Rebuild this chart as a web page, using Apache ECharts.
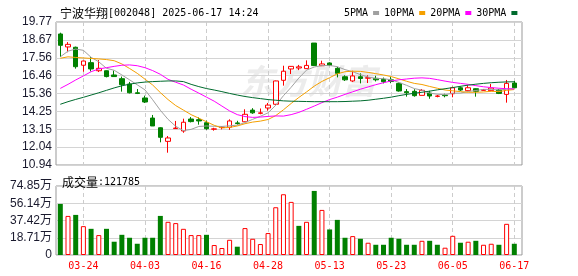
<!DOCTYPE html>
<html><head><meta charset="utf-8">
<script src="https://cdn.jsdelivr.net/npm/echarts@6/dist/echarts.min.js"></script>
<style>html,body{margin:0;padding:0;background:#fff}#c{width:578px;height:276px}</style>
</head><body><div id="c"></div>
<script>
const dates = ['03-19','03-20','03-21','03-24','03-25','03-26','03-27','03-28','03-31','04-01','04-02','04-03','04-07','04-08','04-09','04-10','04-11','04-14','04-15','04-16','04-17','04-18','04-21','04-22','04-23','04-24','04-25','04-28','04-29','04-30','05-06','05-07','05-08','05-09','05-12','05-13','05-14','05-15','05-16','05-19','05-20','05-21','05-22','05-23','05-26','05-27','05-28','05-29','05-30','06-03','06-04','06-05','06-06','06-09','06-10','06-11','06-12','06-13','06-16','06-17'];
const labelDates = ['03-24','04-03','04-16','04-28','05-13','05-23','06-05','06-17'];
// [open, close, low, high]
const candles = [
[19.03,18.33,17.61,19.11],[18.23,18.39,17.90,18.53],[18.21,17.01,16.89,18.25],[17.10,17.36,16.70,17.38],
[17.26,16.87,16.72,17.60],[16.76,16.91,16.68,17.42],[16.76,16.40,16.35,16.78],[16.50,16.40,16.39,16.77],
[16.27,15.90,15.47,16.40],[15.94,15.40,15.36,16.07],[15.40,15.36,15.32,15.63],[15.08,14.83,14.77,15.22],
[13.84,13.35,13.35,14.03],[13.24,12.65,12.34,13.27],[12.40,12.61,11.70,12.73],[13.19,13.22,13.17,13.66],
[13.04,13.58,12.93,13.80],[13.78,13.62,13.57,13.90],[13.74,13.66,13.43,13.88],[13.55,13.18,13.11,13.68],
[13.15,13.17,13.06,13.24],[13.25,13.27,13.14,13.33],[13.27,13.66,13.11,13.76],[13.54,13.50,13.43,13.67],
[13.61,14.07,13.60,14.38],[14.33,14.16,14.10,14.45],[14.13,14.16,14.07,14.43],[14.46,14.64,14.29,14.77],
[14.69,16.13,14.63,16.15],[16.17,16.73,15.84,17.07],[16.87,17.03,16.56,17.05],[16.93,17.00,16.80,17.12],
[16.89,17.09,16.88,17.40],[18.47,17.08,17.05,18.47],[17.07,17.18,17.05,17.38],[17.24,17.08,17.06,17.28],
[16.91,16.60,16.35,17.00],[16.39,16.20,16.13,16.48],[16.13,16.44,16.07,16.76],[16.39,16.28,15.98,16.60],
[16.30,16.33,16.00,16.48],[16.29,16.20,16.10,16.45],[16.23,16.08,15.98,16.34],[16.20,16.10,15.99,16.37],
[15.98,15.51,15.47,16.04],[15.47,15.40,15.16,15.63],[15.49,15.22,15.16,15.62],[15.24,15.55,15.24,15.63],
[15.38,15.20,15.03,15.52],[15.18,15.20,15.12,15.27],[15.25,15.22,15.12,15.34],[15.34,15.71,15.12,15.78],
[15.71,15.57,15.51,15.80],[15.53,15.71,15.52,15.86],[15.65,15.49,15.16,15.67],[15.55,15.58,15.53,15.63],
[15.53,15.69,15.52,15.94],[15.57,15.36,15.32,15.63],[15.30,15.98,14.79,16.19],[16.00,15.71,15.69,16.13]
];
const ma5 = [17.62,17.97,18.10,18.02,17.59,17.31,16.91,16.79,16.50,16.20,15.89,15.58,14.97,14.32,13.76,13.33,13.06,13.14,13.32,13.35,13.33,13.32,13.36,13.40,13.56,13.76,13.95,14.16,14.63,15.22,15.74,16.31,16.80,16.99,17.08,17.09,17.01,16.83,16.70,16.52,16.37,16.29,16.27,16.20,16.04,15.86,15.66,15.56,15.38,15.31,15.28,15.38,15.38,15.48,15.54,15.61,15.61,15.57,15.62,15.66];
const ma10 = [17.53,17.62,17.58,17.55,17.52,17.49,17.45,17.38,17.18,16.90,16.60,16.24,15.88,15.41,14.98,14.61,14.33,14.05,13.83,13.61,13.39,13.23,13.26,13.35,13.49,13.59,13.65,13.75,13.99,14.35,14.74,15.11,15.45,15.81,16.10,16.33,16.57,16.70,16.73,16.72,16.66,16.58,16.50,16.40,16.26,16.11,15.98,15.91,15.79,15.68,15.57,15.52,15.47,15.43,15.43,15.45,15.49,15.47,15.55,15.60];
const ma20 = [15.67,15.92,16.19,16.44,16.70,16.87,16.95,17.03,17.10,17.12,17.07,16.95,16.77,16.54,16.23,16.05,15.88,15.62,15.38,15.13,14.88,14.58,14.28,14.05,13.93,13.88,13.90,13.94,13.97,13.96,14.05,14.19,14.38,14.58,14.79,14.98,15.13,15.30,15.46,15.62,15.76,15.90,16.02,16.13,16.20,16.25,16.30,16.32,16.29,16.21,16.12,16.04,15.98,15.92,15.84,15.77,15.72,15.68,15.65,15.63];
const ma30 = [14.69,14.85,14.99,15.12,15.26,15.40,15.55,15.70,15.83,15.93,16.01,16.06,16.09,16.11,16.13,16.13,16.09,15.92,15.78,15.66,15.57,15.47,15.36,15.26,15.17,15.10,15.04,14.98,14.94,14.90,14.88,14.87,14.86,14.85,14.85,14.85,14.85,14.86,14.88,14.90,14.94,15.00,15.06,15.13,15.22,15.30,15.37,15.43,15.50,15.58,15.65,15.72,15.80,15.87,15.93,15.98,16.02,16.05,16.07,16.08];
const volumes = [554000,424000,435000,313000,284000,216000,284000,144000,219000,187000,122000,187000,187000,424000,360000,346000,284000,216000,216000,219000,108000,76000,165000,90000,292000,176000,119000,238000,518000,659000,576000,316000,360000,695000,489000,277000,381000,187000,205000,176000,133000,111000,111000,187000,176000,111000,111000,154000,154000,111000,79000,208000,133000,144000,154000,111000,122000,111000,338000,121785];
const volUp = [0,1,0,1,0,1,0,0,0,0,0,0,0,0,1,1,1,1,1,0,1,1,1,0,1,1,1,1,1,1,1,0,1,0,1,0,0,0,1,0,1,0,0,0,0,0,0,1,0,0,1,1,0,1,0,1,1,0,1,0];
const priceTicks = [10.94,12.04,13.15,14.25,15.36,16.46,17.56,18.67,19.77];
const volTicks = [0,187100,374200,561400,748500];
const lastVolume = '121785';
const title = ['宁波华翔','[002048] 2025-06-17 14:24'];
const seriesNames = ['5PMA','10PMA','20PMA','30PMA'];

const RED = '#ff0000', GREEN = '#008000';
const labelIdx = labelDates.map(d => dates.indexOf(d));
const mono = '"DejaVu Sans Mono", monospace';
const sans = '"Liberation Sans", "Noto Sans CJK SC", sans-serif';

function xAxis(grid, showLabel) {
  return {
    type: 'value', gridIndex: grid, min: -0.56, max: 60.0,
    axisLine: {show: false},
    axisTick: {show: false, customValues: labelIdx},
    axisLabel: {show: showLabel, customValues: labelIdx, formatter: v => dates[v],
      color: RED, fontSize: 10, fontFamily: mono, margin: 6},
    splitLine: {show: true, lineStyle: {color: '#cccccc', type: [4, 3], width: 1}}
  };
}
const richStyle = {
  a: {fontSize: 12, fontFamily: '"Noto Sans CJK SC"', fontWeight: 'normal', color: '#000'},
  b: {fontSize: 10, fontFamily: mono, fontWeight: 'normal', color: '#000'}
};

const chart = echarts.init(document.getElementById('c'), null, {renderer: 'canvas'});
chart.setOption({
  animation: false,
  backgroundColor: '#fff',
  title: [
    {left: 55, top: 2, text: '{a|' + title[0] + '}{b|' + title[1] + '}',
     textStyle: {fontWeight: 'normal', rich: richStyle}},
    {left: 57, top: 171, text: '{a|成交量}{b|:' + lastVolume + '}',
     textStyle: {fontWeight: 'normal', rich: richStyle}}
  ],
  legend: {
    data: seriesNames, left: 339, top: 3, align: 'right', icon: 'rect',
    itemWidth: 6, itemHeight: 4, itemGap: 5,
    textStyle: {fontSize: 10, fontFamily: mono, color: '#000'}
  },
  graphic: [{
    type: 'text', left: 240, top: 64, z: -10, silent: true,
    style: {text: '东方财富', font: 'italic bold 34px "Noto Sans CJK SC"', fill: '#ececec'}
  }],
  grid: [
    {left: 56, top: 22, width: 466, height: 143, show: true, borderColor: '#999', borderWidth: 1},
    {left: 56, top: 186, width: 466, height: 69, show: true, borderColor: '#999', borderWidth: 1}
  ],
  xAxis: [xAxis(0, false), xAxis(1, true)],
  yAxis: [
    {type: 'value', gridIndex: 0, min: 10.94, max: 19.77,
     axisLine: {show: false}, axisTick: {show: false, customValues: priceTicks},
     axisLabel: {customValues: priceTicks, formatter: v => v.toFixed(2), color: '#1a1a2e', fontSize: 12, fontFamily: sans, margin: 4},
     splitLine: {show: true, lineStyle: {color: '#d4d4d4', width: 1}}},
    {type: 'value', gridIndex: 1, min: 0, max: 748500,
     axisLine: {show: false}, axisTick: {show: false, customValues: volTicks},
     axisLabel: {customValues: volTicks, formatter: v => v === 0 ? '0' : (v / 10000).toFixed(2) + '万', color: '#1a1a2e', fontSize: 12, fontFamily: sans, margin: 4},
     splitLine: {show: true, lineStyle: {color: '#d4d4d4', width: 1}}}
  ],
  series: [
    {type: 'candlestick', xAxisIndex: 0, yAxisIndex: 0, barWidth: 5,
     data: candles.map((d, i) => [i, d[0], d[1], d[2], d[3]]),
     itemStyle: {color: '#ffffff', color0: GREEN, borderColor: RED, borderColor0: GREEN, borderWidth: 1}},
    {name: '5PMA', type: 'line', xAxisIndex: 0, yAxisIndex: 0, showSymbol: false, color: '#a0a0a0',
     lineStyle: {width: 1, color: '#a0a0a0'}, data: ma5.map((v, i) => [i, v])},
    {name: '10PMA', type: 'line', xAxisIndex: 0, yAxisIndex: 0, showSymbol: false, color: '#f5a000',
     lineStyle: {width: 1, color: '#f5a000'}, data: ma10.map((v, i) => [i, v])},
    {name: '20PMA', type: 'line', xAxisIndex: 0, yAxisIndex: 0, showSymbol: false, color: '#ff00ff',
     lineStyle: {width: 1, color: '#ff00ff'}, data: ma20.map((v, i) => [i, v])},
    {name: '30PMA', type: 'line', xAxisIndex: 0, yAxisIndex: 0, showSymbol: false, color: '#006b2e',
     lineStyle: {width: 1, color: '#006b2e'}, data: ma30.map((v, i) => [i, v])},
    {type: 'bar', xAxisIndex: 1, yAxisIndex: 1, barWidth: 5,
     data: volumes.map((v, i) => ({value: [i, v], itemStyle: volUp[i]
        ? {color: '#ffffff', borderColor: RED, borderWidth: 1}
        : {color: GREEN, borderColor: GREEN, borderWidth: 0}}))}
  ]
});
</script></body></html>
